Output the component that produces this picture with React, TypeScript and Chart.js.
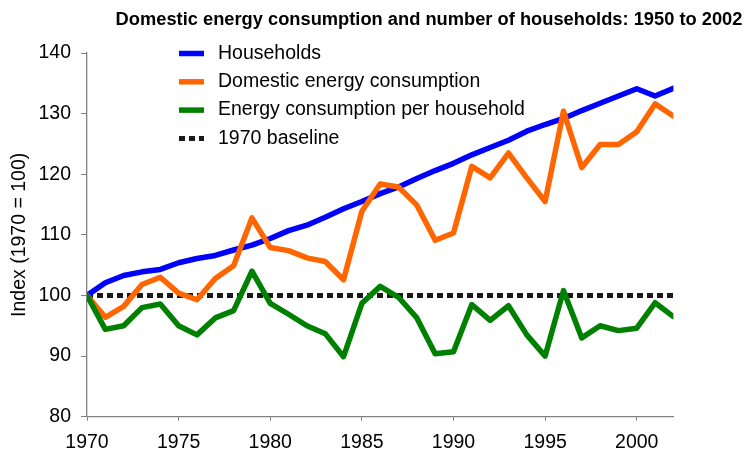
import React, { useEffect, useRef } from 'react';
import { Chart, registerables } from 'chart.js';

Chart.register(...registerables);

const TITLE = 'Domestic energy consumption and number of households: 1950 to 2002';
const Y_TITLE = 'Index (1970 = 100)';

const years = [
  1970, 1971, 1972, 1973, 1974, 1975, 1976, 1977, 1978, 1979, 1980,
  1981, 1982, 1983, 1984, 1985, 1986, 1987, 1988, 1989, 1990,
  1991, 1992, 1993, 1994, 1995, 1996, 1997, 1998, 1999, 2000,
  2001, 2002,
];

const xTickValues = [1970, 1975, 1980, 1985, 1990, 1995, 2000];
const yTickValues = [80, 90, 100, 110, 120, 130, 140];

const households = [
  100, 102.1, 103.3, 103.9, 104.3, 105.4, 106.1, 106.6, 107.5, 108.3, 109.4,
  110.7, 111.6, 112.9, 114.3, 115.5, 116.8, 117.9, 119.3, 120.6, 121.8,
  123.2, 124.4, 125.6, 127.1, 128.2, 129.2, 130.5, 131.7, 132.9, 134.1,
  132.9, 134.2,
];

const domesticEnergy = [
  100, 96.4, 98.2, 101.8, 103.0, 100.4, 99.3, 102.8, 104.9, 112.8, 107.9,
  107.4, 106.2, 105.6, 102.6, 113.9, 118.4, 117.9, 114.9, 109.1, 110.3,
  121.3, 119.4, 123.5, 119.4, 115.5, 130.4, 121.1, 124.9, 124.9, 127.0,
  131.6, 129.6,
];

const perHousehold = [
  100, 94.4, 95.0, 98.0, 98.6, 95.0, 93.5, 96.3, 97.5, 104.0, 98.7,
  96.9, 95.0, 93.7, 89.9, 98.7, 101.5, 99.7, 96.3, 90.4, 90.7,
  98.5, 95.9, 98.3, 93.5, 90.0, 100.8, 93.0, 95.0, 94.2, 94.6,
  98.8, 96.5,
];

const baselineYears = [1970, 2002];
const baselineValues = [100, 100];

const seriesLabels = [
  'Households',
  'Domestic energy consumption',
  'Energy consumption per household',
  '1970 baseline',
];

const FONT_FAMILY = '"Liberation Sans", Arial, Helvetica, sans-serif';
const AXIS_GRAY = '#808080';

const toPoints = (xs: number[], ys: number[]) => xs.map((x, i) => ({ x, y: ys[i] }));

const overlayPlugin = {
  id: 'overlay',
  afterDraw(chart: any) {
    const ctx = chart.ctx as CanvasRenderingContext2D;
    ctx.save();
    // Title
    ctx.fillStyle = '#000';
    ctx.font = `bold 18.3px ${FONT_FAMILY}`;
    ctx.textAlign = 'center';
    ctx.textBaseline = 'middle';
    ctx.fillText(TITLE, 429, 20);

    // Legend (in legend order: households, domestic, per household, baseline)
    const legendDatasets = [...chart.data.datasets].sort(
      (a: any, b: any) => a.legendIndex - b.legendIndex
    );
    ctx.font = `19.5px ${FONT_FAMILY}`;
    ctx.textAlign = 'left';
    legendDatasets.forEach((ds: any, i: number) => {
      const y = 53.5 + i * 28.3;
      ctx.beginPath();
      ctx.strokeStyle = ds.borderColor;
      ctx.lineWidth = ds.borderWidth;
      ctx.lineCap = 'butt';
      ctx.setLineDash(ds.borderDash || []);
      ctx.moveTo(179, y);
      ctx.lineTo(204, y);
      ctx.stroke();
      ctx.setLineDash([]);
      ctx.fillStyle = '#000';
      ctx.fillText(ds.label, 218, y);
    });
    ctx.restore();
  },
};

export default function App() {
  const canvasRef = useRef<HTMLCanvasElement | null>(null);

  useEffect(() => {
    const canvas = canvasRef.current;
    if (!canvas) return;
    const font = { family: FONT_FAMILY, size: 19.5 };

    const chart = new Chart(canvas, {
      type: 'line',
      data: {
        datasets: [
          {
            label: seriesLabels[2],
            legendIndex: 2,
            data: toPoints(years, perHousehold),
            borderColor: '#008000',
            borderWidth: 5.5,
            pointRadius: 0,
            tension: 0,
            borderJoinStyle: 'round',
            borderCapStyle: 'round',
            order: 0,
          } as any,
          {
            label: seriesLabels[1],
            legendIndex: 1,
            data: toPoints(years, domesticEnergy),
            borderColor: '#FF6600',
            borderWidth: 5.5,
            pointRadius: 0,
            tension: 0,
            borderJoinStyle: 'round',
            borderCapStyle: 'round',
            order: 1,
          } as any,
          {
            label: seriesLabels[0],
            legendIndex: 0,
            data: toPoints(years, households),
            borderColor: '#0000FF',
            borderWidth: 5.5,
            pointRadius: 0,
            tension: 0,
            borderJoinStyle: 'round',
            borderCapStyle: 'round',
            order: 2,
          } as any,
          {
            label: seriesLabels[3],
            legendIndex: 3,
            data: toPoints(baselineYears, baselineValues),
            borderColor: '#1a1a1a',
            borderWidth: 5,
            borderDash: [6, 4],
            pointRadius: 0,
            tension: 0,
            borderCapStyle: 'butt',
            order: 3,
          } as any,
        ],
      },
      options: {
        responsive: false,
        animation: false,
        devicePixelRatio: 1,
        layout: { padding: { top: 53, right: 72.6, left: 0, bottom: 0 } },
        plugins: {
          legend: { display: false },
          title: { display: false },
          tooltip: { enabled: false },
        },
        scales: {
          x: {
            type: 'linear',
            min: 1970,
            max: 2002,
            afterBuildTicks: (s: any) => {
              s.ticks = xTickValues.map((v) => ({ value: v }));
            },
            afterFit: (s: any) => {
              s.height = 34.3;
            },
            ticks: {
              font,
              color: '#000',
              padding: 10,
              maxRotation: 0,
              autoSkip: false,
              callback: (v: any) => String(v),
            },
            grid: {
              display: true,
              drawOnChartArea: false,
              drawTicks: true,
              tickLength: 4,
              tickColor: AXIS_GRAY,
              tickWidth: 1,
            },
            border: { display: true, color: AXIS_GRAY, width: 1.3 },
          },
          y: {
            min: 80,
            max: 140,
            afterBuildTicks: (s: any) => {
              s.ticks = yTickValues.map((v) => ({ value: v }));
            },
            afterFit: (s: any) => {
              s.width = 87;
            },
            ticks: {
              font,
              color: '#000',
              padding: 10,
              callback: (v: any) => String(v),
            },
            grid: {
              display: true,
              drawOnChartArea: false,
              drawTicks: true,
              tickLength: 6,
              tickColor: AXIS_GRAY,
              tickWidth: 1,
            },
            border: { display: true, color: AXIS_GRAY, width: 1.3 },
            title: {
              display: true,
              text: Y_TITLE,
              font,
              color: '#000',
              padding: { top: 8, bottom: 0 },
            },
          },
        },
      },
      plugins: [overlayPlugin],
    } as any);

    return () => chart.destroy();
  }, []);

  return (
    <div style={{ position: 'fixed', left: 0, top: 0, width: 746, height: 451, background: '#fff' }}>
      <canvas ref={canvasRef} width={746} height={451} style={{ display: 'block' }} />
    </div>
  );
}
